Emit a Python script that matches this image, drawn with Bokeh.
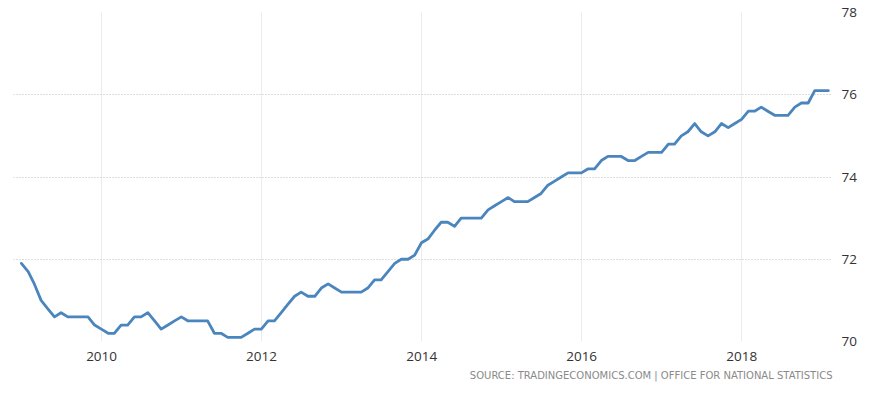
import pandas as pd
from bokeh.plotting import figure
from bokeh.models import FixedTicker, DatetimeTickFormatter, Range1d, Title, ColumnDataSource
from bokeh.embed import file_html
from bokeh.resources import INLINE

# UK employment rate (%), monthly, Dec 2008 .. Jan 2019
first_month = "2008-12-01"
employment_rate = [
    71.9, 71.7, 71.4, 71.0, 70.8, 70.6, 70.7, 70.6, 70.6, 70.6, 70.6, 70.4,
    70.3, 70.2, 70.2, 70.4, 70.4, 70.6, 70.6, 70.7, 70.5, 70.3, 70.4, 70.5,
    70.6, 70.5, 70.5, 70.5, 70.5, 70.2, 70.2, 70.1, 70.1, 70.1, 70.2, 70.3,
    70.3, 70.5, 70.5, 70.7, 70.9, 71.1, 71.2, 71.1, 71.1, 71.3, 71.4, 71.3,
    71.2, 71.2, 71.2, 71.2, 71.3, 71.5, 71.5, 71.7, 71.9, 72.0, 72.0, 72.1,
    72.4, 72.5, 72.7, 72.9, 72.9, 72.8, 73.0, 73.0, 73.0, 73.0, 73.2, 73.3,
    73.4, 73.5, 73.4, 73.4, 73.4, 73.5, 73.6, 73.8, 73.9, 74.0, 74.1, 74.1,
    74.1, 74.2, 74.2, 74.4, 74.5, 74.5, 74.5, 74.4, 74.4, 74.5, 74.6, 74.6,
    74.6, 74.8, 74.8, 75.0, 75.1, 75.3, 75.1, 75.0, 75.1, 75.3, 75.2, 75.3,
    75.4, 75.6, 75.6, 75.7, 75.6, 75.5, 75.5, 75.5, 75.7, 75.8, 75.8, 76.1,
    76.1, 76.1,
]
year_ticks = [2010, 2012, 2014, 2016, 2018]
y_ticks = [70, 72, 74, 76, 78]
source_text = "SOURCE: TRADINGECONOMICS.COM | OFFICE FOR NATIONAL STATISTICS"

dates = pd.date_range(first_month, periods=len(employment_rate), freq="MS") + pd.offsets.MonthEnd(0)
src = ColumnDataSource(dict(date=dates, rate=employment_rate))

W, H = 861, 408
BL, BR, BT, BB = 13, 29, 12, 67

p = figure(
    width=W, height=H,
    x_axis_type="datetime",
    y_axis_location="right",
    x_range=Range1d(pd.Timestamp("2008-11-25"), pd.Timestamp("2019-02-19")),
    y_range=Range1d(70, 78),
    output_backend="svg",
    toolbar_location=None,
    min_border_left=BL, min_border_right=BR,
    min_border_top=BT, min_border_bottom=BB,
)
p.outline_line_color = None
p.background_fill_color = "white"
p.border_fill_color = "white"

p.line("date", "rate", source=src, line_color="#4a85bd", line_width=2.8,
       line_join="round", line_cap="round")

# axes
tick_ms = [pd.Timestamp(f"{y}-01-01").value / 1e6 for y in year_ticks]
p.xaxis.ticker = FixedTicker(ticks=tick_ms)
p.xaxis.formatter = DatetimeTickFormatter(years="%Y", months="%Y", days="%Y")
p.yaxis.ticker = FixedTicker(ticks=y_ticks)

for ax in (p.xaxis[0], p.yaxis[0]):
    ax.axis_line_color = None
    ax.major_tick_line_color = None
    ax.minor_tick_line_color = None
    ax.major_label_text_font = "Open Sans"
    ax.major_label_text_font_size = "13.5px"
    ax.major_label_text_color = "#333333"
p.xaxis.major_label_standoff = 4
p.yaxis.major_label_standoff = 3

p.xgrid.grid_line_color = "#d8d8d8"
p.xgrid.grid_line_dash = "1 1"
p.ygrid.grid_line_color = "#bdbdbd"
p.ygrid.grid_line_dash = "1 2"

p.add_layout(Title(text=source_text, align="right", text_font="DejaVu Sans",
                   text_font_size="10px", text_font_style="normal",
                   text_color="#8a8a8a", standoff=9), "below")

open("out.html", "w").write(file_html(p, INLINE))
